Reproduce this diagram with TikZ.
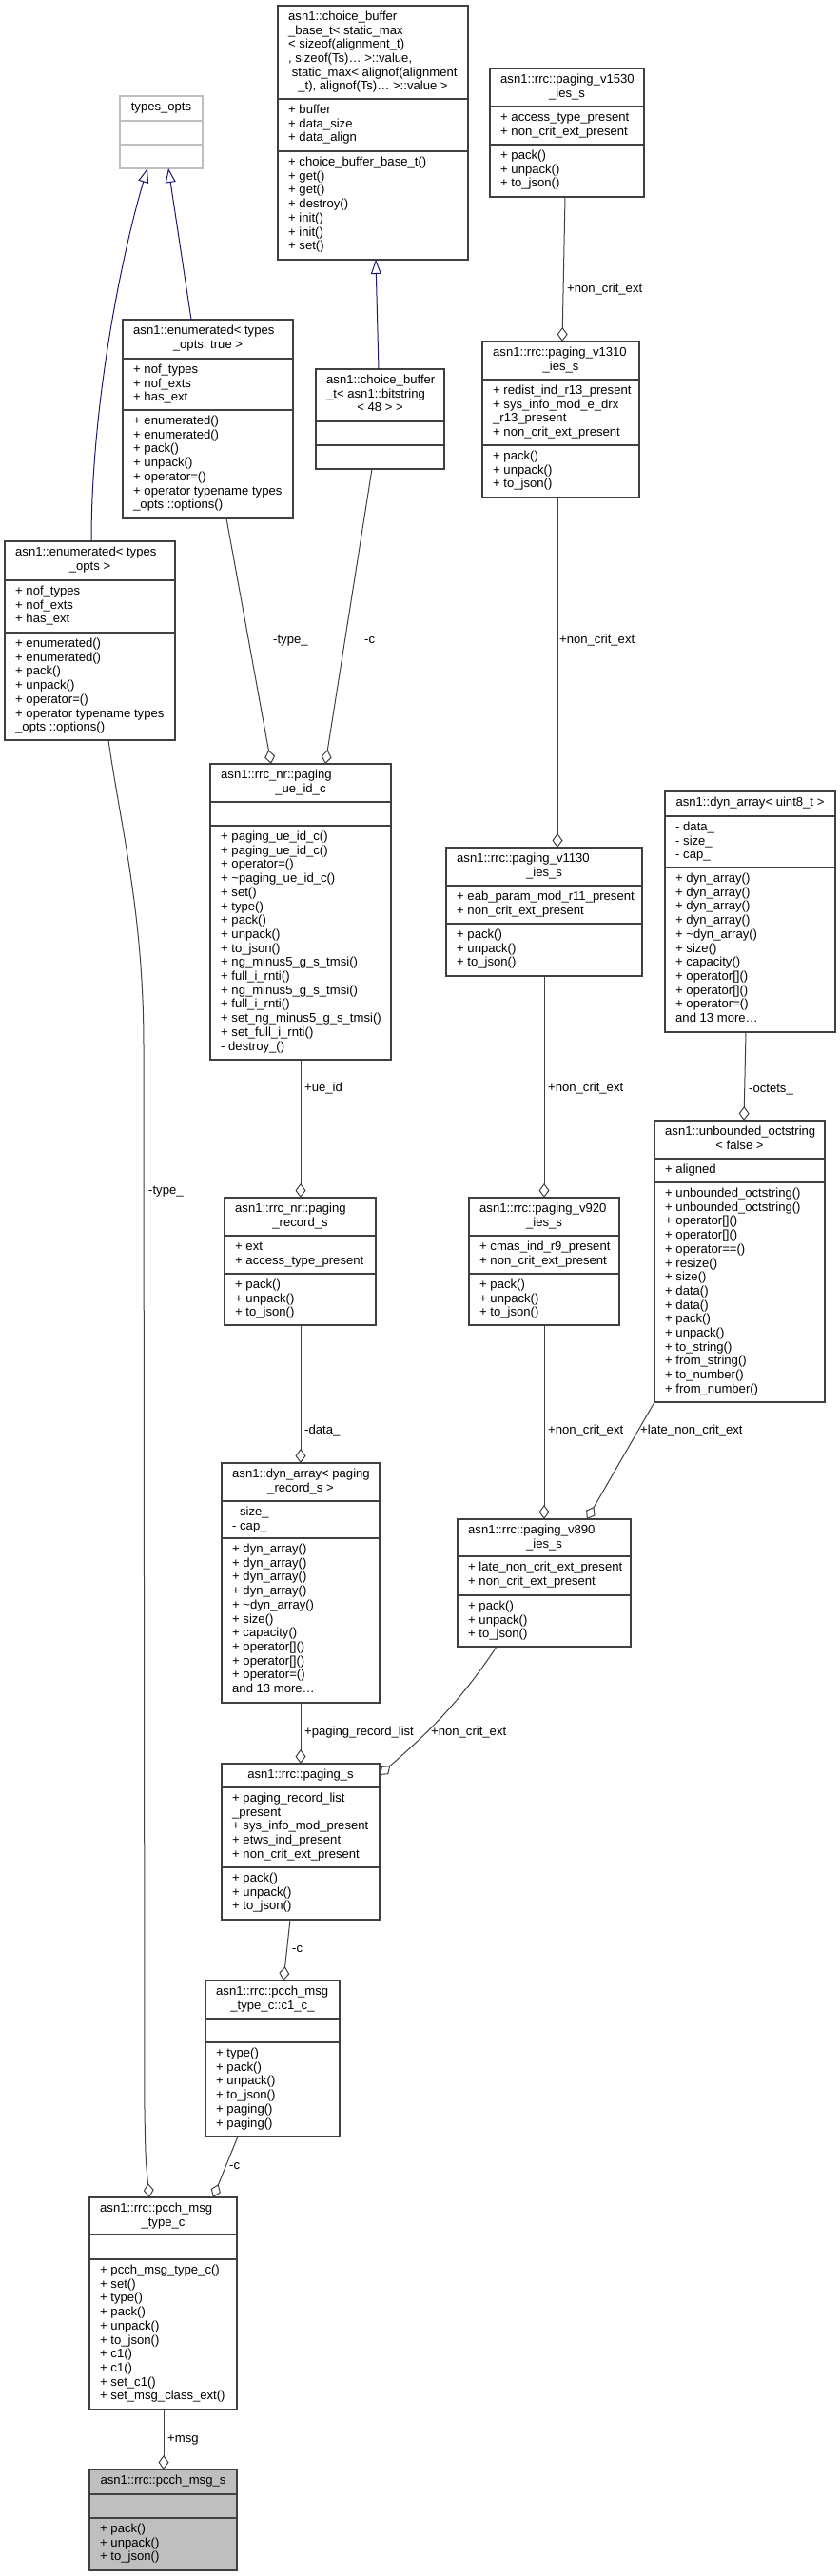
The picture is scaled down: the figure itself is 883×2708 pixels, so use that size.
\documentclass[tikz,border=0pt]{standalone}
\usepackage{fontspec}
\setmainfont{Liberation Sans}
\usetikzlibrary{arrows.meta}
\definecolor{bord}{HTML}{404040}
\definecolor{edgec}{HTML}{404040}
\definecolor{inhc}{HTML}{191970}
\definecolor{lgray}{HTML}{BFBFBF}
\definecolor{hilite}{HTML}{BFBFBF}
\tikzset{
 uml/.style={line width=1.1pt, inner sep=0pt, outer sep=0pt, anchor=north west},
 sepl/.style={line width=1.1pt},
 txt/.style={font=\fontsize{13.1}{14.7}\selectfont, inner sep=0pt, text=black},
 lbl/.style={txt, anchor=west, text height=9.5pt, text depth=2.6pt},
 comp/.style={draw=edgec, line width=1pt, -{Diamond[open, length=15pt, width=11pt]}},
 inh/.style={draw=inhc, line width=1pt, -{Triangle[open, length=15pt, width=11pt]}},
}
% #1 name, #2 x1, #3 y1, #4 x2, #5 y2, #6 sep1, #7 sep2, #8 border colour, #9 fill
\newcommand\umlcls[9]{%
  \node[uml, draw=#8, fill=#9, minimum width={#4-#2}, minimum height={#5-#3}] (#1) at (#2,#3) {};
  \draw[sepl, draw=#8] (#2,#6) -- (#4,#6);
  \draw[sepl, draw=#8] (#2,#7) -- (#4,#7);
}
% left aligned lines: #1 prefix, #2 x1, #3 section top, #4 list
\newcommand\umllines[4]{%
  \foreach \ln [count=\k] in {#4} {\node[txt, anchor=base west] (#1\k) at (#2+11, #3+15.5+14.7*\k-14.7) {\ln};}
}
% centred line: #1 name, #2 x1, #3 x2, #4 section top, #5 index (0-based), #6 text
\newcommand\umlcline[6]{%
  \node[txt, anchor=base] (#1) at ({(#2+#3)/2}, #4+15.5+14.7*#5) {#6};
}
\begin{document}
\catcode`\_=12
\begin{tikzpicture}[x=1pt, y=-1pt]
\fill[white] (0,0) rectangle (883,2708);
\useasboundingbox (0,0) rectangle (883,2708);

% types_opts
\umlcls{tyo}{126}{101}{213}{177}{127}{152}{lgray}{white}
\umlcline{tyot}{126}{213}{101}{0}{types_opts}

% choice_buffer_base_t
\umlcls{cbb}{292}{6}{492}{273}{104}{159}{bord}{white}
\umllines{cbbt}{292}{6}{{asn1::choice_buffer},{_base_t< static_max},{< sizeof(alignment_t)},{, sizeof(Ts)\ldots{} >::value,},{\ static_max< alignof(alignment}}
\umlcline{cbbt6}{292}{492}{6}{5}{_t), alignof(Ts)\ldots{} >::value >}
\umllines{cbba}{292}{104}{{+ buffer},{+ data_size},{+ data_align}}
\umllines{cbbm}{292}{159}{{+ choice_buffer_base_t()},{+ get()},{+ get()},{+ destroy()},{+ init()},{+ init()},{+ set()}}

% paging_v1530
\umlcls{v1530}{515}{72}{677}{207}{112}{152}{bord}{white}
\umllines{v1530t}{515}{72}{{asn1::rrc::paging_v1530}}
\umlcline{v1530t2}{515}{677}{72}{1}{_ies_s}
\umllines{v1530a}{515}{112}{{+ access_type_present},{+ non_crit_ext_present}}
\umllines{v1530m}{515}{152}{{+ pack()},{+ unpack()},{+ to_json()}}

% enumerated true
\umlcls{enumt}{129}{336}{308}{545}{377}{431}{bord}{white}
\umllines{enumtt}{129}{336}{{asn1::enumerated< types}}
\umlcline{enumtt2}{129}{308}{336}{1}{_opts, true >}
\umllines{enumta}{129}{377}{{+ nof_types},{+ nof_exts},{+ has_ext}}
\umllines{enumtm}{129}{431}{{+ enumerated()},{+ enumerated()},{+ pack()},{+ unpack()},{+ operator=()},{+ operator typename types},{_opts ::options()}}

% choice_buffer_t
\umlcls{cbt}{332}{388}{467}{493}{443}{468}{bord}{white}
\umllines{cbtt}{332}{388}{{asn1::choice_buffer},{_t< asn1::bitstring}}
\umlcline{cbtt3}{332}{467}{388}{2}{< 48 > >}

% paging_v1310
\umlcls{v1310}{507}{359}{672}{523}{399}{468}{bord}{white}
\umllines{v1310t}{507}{359}{{asn1::rrc::paging_v1310}}
\umlcline{v1310t2}{507}{672}{359}{1}{_ies_s}
\umllines{v1310a}{507}{399}{{+ redist_ind_r13_present},{+ sys_info_mod_e_drx},{_r13_present},{+ non_crit_ext_present}}
\umllines{v1310m}{507}{468}{{+ pack()},{+ unpack()},{+ to_json()}}

% enumerated types_opts
\umlcls{enumo}{5}{569}{184}{778}{610}{665}{bord}{white}
\umllines{enumot}{5}{569}{{asn1::enumerated< types}}
\umlcline{enumot2}{5}{184}{569}{1}{_opts >}
\umllines{enumoa}{5}{610}{{+ nof_types},{+ nof_exts},{+ has_ext}}
\umllines{enumom}{5}{665}{{+ enumerated()},{+ enumerated()},{+ pack()},{+ unpack()},{+ operator=()},{+ operator typename types},{_opts ::options()}}

% paging_ue_id_c
\umlcls{ueid}{221}{803}{411}{1114}{843}{868}{bord}{white}
\umllines{ueidt}{221}{803}{{asn1::rrc_nr::paging}}
\umlcline{ueidt2}{221}{411}{803}{1}{_ue_id_c}
\umllines{ueidm}{221}{868}{{+ paging_ue_id_c()},{+ paging_ue_id_c()},{+ operator=()},{+ \textasciitilde paging_ue_id_c()},{+ set()},{+ type()},{+ pack()},{+ unpack()},{+ to_json()},{+ ng_minus5_g_s_tmsi()},{+ full_i_rnti()},{+ ng_minus5_g_s_tmsi()},{+ full_i_rnti()},{+ set_ng_minus5_g_s_tmsi()},{+ set_full_i_rnti()},{- destroy_()}}

% paging_v1130
\umlcls{v1130}{469}{891}{675}{1026}{931}{971}{bord}{white}
\umllines{v1130t}{469}{891}{{asn1::rrc::paging_v1130}}
\umlcline{v1130t2}{469}{675}{891}{1}{_ies_s}
\umllines{v1130a}{469}{931}{{+ eab_param_mod_r11_present},{+ non_crit_ext_present}}
\umllines{v1130m}{469}{971}{{+ pack()},{+ unpack()},{+ to_json()}}

% dyn_array uint8_t
\umlcls{dynu}{699}{832}{878}{1085}{858}{912}{bord}{white}
\umlcline{dynut}{699}{878}{832}{0}{asn1::dyn_array< uint8_t >}
\umllines{dynua}{699}{858}{{- data_},{- size_},{- cap_}}
\umllines{dynum}{699}{912}{{+ dyn_array()},{+ dyn_array()},{+ dyn_array()},{+ dyn_array()},{+ \textasciitilde dyn_array()},{+ size()},{+ capacity()},{+ operator[]()},{+ operator[]()},{+ operator=()},{and 13 more\ldots}}

% paging_record_s
\umlcls{prs}{236}{1259}{395}{1393}{1299}{1339}{bord}{white}
\umllines{prst}{236}{1259}{{asn1::rrc_nr::paging}}
\umlcline{prst2}{236}{395}{1259}{1}{_record_s}
\umllines{prsa}{236}{1299}{{+ ext},{+ access_type_present}}
\umllines{prsm}{236}{1339}{{+ pack()},{+ unpack()},{+ to_json()}}

% paging_v920
\umlcls{v920}{493}{1259}{651}{1393}{1299}{1339}{bord}{white}
\umllines{v920t}{493}{1259}{{asn1::rrc::paging_v920}}
\umlcline{v920t2}{493}{651}{1259}{1}{_ies_s}
\umllines{v920a}{493}{1299}{{+ cmas_ind_r9_present},{+ non_crit_ext_present}}
\umllines{v920m}{493}{1339}{{+ pack()},{+ unpack()},{+ to_json()}}

% unbounded_octstring
\umlcls{uoct}{688}{1178}{867}{1474}{1218}{1243}{bord}{white}
\umllines{uoctt}{688}{1178}{{asn1::unbounded_octstring}}
\umlcline{uoctt2}{688}{867}{1178}{1}{< false >}
\umllines{uocta}{688}{1218}{{+ aligned}}
\umllines{uoctm}{688}{1243}{{+ unbounded_octstring()},{+ unbounded_octstring()},{+ operator[]()},{+ operator[]()},{+ operator==()},{+ resize()},{+ size()},{+ data()},{+ data()},{+ pack()},{+ unpack()},{+ to_string()},{+ from_string()},{+ to_number()},{+ from_number()}}

% dyn_array paging_record_s
\umlcls{dynp}{233}{1538}{399}{1790}{1578}{1617}{bord}{white}
\umllines{dynpt}{233}{1538}{{asn1::dyn_array< paging}}
\umlcline{dynpt2}{233}{399}{1538}{1}{_record_s >}
\umllines{dynpa}{233}{1578}{{- size_},{- cap_}}
\umllines{dynpm}{233}{1617}{{+ dyn_array()},{+ dyn_array()},{+ dyn_array()},{+ dyn_array()},{+ \textasciitilde dyn_array()},{+ size()},{+ capacity()},{+ operator[]()},{+ operator[]()},{+ operator=()},{and 13 more\ldots}}

% paging_v890
\umlcls{v890}{481}{1597}{663}{1731}{1636}{1677}{bord}{white}
\umllines{v890t}{481}{1597}{{asn1::rrc::paging_v890}}
\umlcline{v890t2}{481}{663}{1597}{1}{_ies_s}
\umllines{v890a}{481}{1636}{{+ late_non_crit_ext_present},{+ non_crit_ext_present}}
\umllines{v890m}{481}{1677}{{+ pack()},{+ unpack()},{+ to_json()}}

% paging_s
\umlcls{pgs}{233}{1854}{399}{2018}{1879}{1963}{bord}{white}
\umlcline{pgst}{233}{399}{1854}{0}{asn1::rrc::paging_s}
\umllines{pgsa}{233}{1879}{{+ paging_record_list},{_present},{+ sys_info_mod_present},{+ etws_ind_present},{+ non_crit_ext_present}}
\umllines{pgsm}{233}{1963}{{+ pack()},{+ unpack()},{+ to_json()}}

% c1_c
\umlcls{c1c}{216}{2082}{357}{2246}{2122}{2147}{bord}{white}
\umllines{c1ct}{216}{2082}{{asn1::rrc::pcch_msg}}
\umlcline{c1ct2}{216}{357}{2082}{1}{_type_c::c1_c_}
\umllines{c1cm}{216}{2147}{{+ type()},{+ pack()},{+ unpack()},{+ to_json()},{+ paging()},{+ paging()}}

% pcch_msg_type_c
\umlcls{pmt}{94}{2310}{249}{2533}{2349}{2375}{bord}{white}
\umllines{pmtt}{94}{2310}{{asn1::rrc::pcch_msg}}
\umlcline{pmtt2}{94}{249}{2310}{1}{_type_c}
\umllines{pmtm}{94}{2375}{{+ pcch_msg_type_c()},{+ set()},{+ type()},{+ pack()},{+ unpack()},{+ to_json()},{+ c1()},{+ c1()},{+ set_c1()},{+ set_msg_class_ext()}}

% pcch_msg_s
\umlcls{pms}{94}{2596}{249}{2702}{2622}{2647}{bord}{hilite}
\umlcline{pmst}{94}{249}{2596}{0}{asn1::rrc::pcch_msg_s}
\umllines{pmsm}{94}{2647}{{+ pack()},{+ unpack()},{+ to_json()}}

% inheritance
\draw[inh] ([xshift=91pt]enumo.north west) .. controls (96,420) and (130,260) .. ([xshift=29pt]tyo.south west);
\draw[inh] ([xshift=72pt]enumt.north west) -- ([xshift=51pt]tyo.south west);
\draw[inh] ([xshift=66pt]cbt.north west) -- ([xshift=103pt]cbb.south west);

% composition
\draw[comp] ([xshift=79pt]v1530.south west) -- ([xshift=84pt]v1310.north west);
\draw[comp] ([xshift=109pt]enumt.south west) -- ([xshift=64pt]ueid.north west);
\draw[comp] ([xshift=59pt]cbt.south west) -- ([xshift=121pt]ueid.north west);
\draw[comp] ([xshift=79pt]v1310.south west) -- ([xshift=117pt]v1130.north west);
\draw[comp] ([xshift=85pt]dynu.south west) -- ([xshift=94pt]uoct.north west);
\draw[comp] ([xshift=95pt]ueid.south west) -- ([xshift=80pt]prs.north west);
\draw[comp] ([xshift=103pt]v1130.south west) -- ([xshift=79pt]v920.north west);
\draw[comp] ([xshift=80pt]prs.south west) -- ([xshift=83pt]dynp.north west);
\draw[comp] ([xshift=79pt]v920.south west) -- ([xshift=91pt]v890.north west);
\draw[comp] (uoct.south west) -- ([xshift=136pt]v890.north west);
\draw[comp] ([xshift=83pt]dynp.south west) -- ([xshift=83pt]pgs.north west);
\draw[comp] ([xshift=41pt]v890.south west) .. controls (480,1795) and (440,1830) .. ([yshift=-12pt]pgs.north east);
\draw[comp] ([xshift=72pt]pgs.south west) -- ([xshift=82pt]c1c.north west);
\draw[comp] ([xshift=109pt]enumo.south west) .. controls (127,870) and (151,960) .. (151,1100) -- (152,2220) .. controls (153,2270) .. ([xshift=63pt]pmt.north west);
\draw[comp] ([xshift=34pt]c1c.south west) -- ([xshift=130pt]pmt.north west);
\draw[comp] ([xshift=78pt]pmt.south west) -- ([xshift=78pt]pms.north west);

% labels
\node[lbl] (l1) at (596,304) {+non_crit_ext};
\node[lbl] (l2) at (287,673) {-type_};
\node[lbl] (l3) at (383,673) {-c};
\node[lbl] (l4) at (588,673) {+non_crit_ext};
\node[lbl] (l5) at (787,1145) {-octets_};
\node[lbl] (l6) at (320,1144) {+ue_id};
\node[lbl] (l7) at (576,1144) {+non_crit_ext};
\node[lbl] (l8) at (320,1504) {-data_};
\node[lbl] (l9) at (576,1504) {+non_crit_ext};
\node[lbl] (l10) at (673,1504) {+late_non_crit_ext};
\node[lbl] (l11) at (320,1821) {+paging_record_list};
\node[lbl] (l12) at (453,1821) {+non_crit_ext};
\node[lbl] (l13) at (307,2049) {-c};
\node[lbl] (l14) at (156,1252) {-type_};
\node[lbl] (l15) at (241,2277) {-c};
\node[lbl] (l16) at (176,2564) {+msg};
\end{tikzpicture}
\end{document}
